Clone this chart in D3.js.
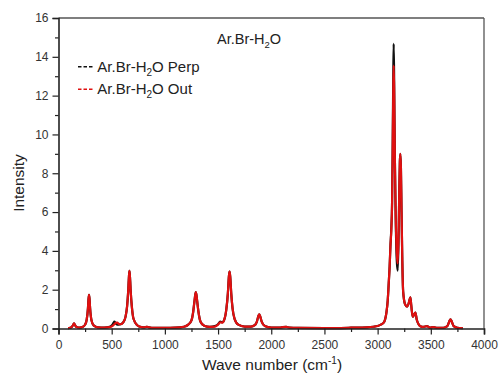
<!DOCTYPE html>
<html>
<head>
<meta charset="utf-8">
<script src="https://cdn.jsdelivr.net/npm/d3@7"></script>
<style>
  html, body { margin: 0; padding: 0; background: #fff; }
  svg { display: block; font-family: "Liberation Sans", Arial, sans-serif; }
</style>
</head>
<body>
<svg id="chart" width="499" height="383"></svg>
<script>
// ---- data ----
const waveNumber = [90,110,125,136,146,156,170,200,230,250,265,277,282,287,292,297,310,330,370,430,480,505,518,525,535,545,553,565,585,610,630,645,655,662,667,672,679,689,705,740,780,810,830,850,900,1000,1100,1180,1220,1250,1266,1278,1286,1291,1296,1304,1316,1335,1370,1420,1470,1500,1520,1540,1560,1578,1592,1602,1608,1614,1624,1636,1655,1690,1750,1810,1845,1865,1880,1887,1894,1910,1940,2000,2080,2110,2141,2170,2250,2500,2750,2900,2960,3000,3030,3057,3082,3095,3104,3113,3120,3129,3136,3142,3147,3151,3156,3162,3170,3180,3189,3197,3204,3209,3214,3219,3225,3232,3240,3258,3277,3292,3300,3308,3316,3330,3343,3355,3368,3385,3402,3430,3465,3490,3525,3560,3620,3655,3675,3685,3695,3715,3750,3800];
const perpIntensity = [0.02,0.04,0.08,0.17,0.27,0.17,0.08,0.05,0.09,0.2,0.45,1.05,1.5,1.73,1.5,1.05,0.42,0.16,0.06,0.05,0.08,0.18,0.3,0.35,0.3,0.22,0.2,0.2,0.22,0.33,0.6,1.15,1.9,2.65,2.97,2.65,1.9,1.15,0.5,0.17,0.07,0.06,0.09,0.06,0.03,0.03,0.04,0.09,0.2,0.42,0.85,1.4,1.75,1.87,1.75,1.4,0.85,0.35,0.14,0.08,0.12,0.22,0.35,0.32,0.48,1.0,1.8,2.7,2.93,2.7,1.8,1.05,0.5,0.2,0.1,0.1,0.17,0.36,0.66,0.73,0.66,0.36,0.13,0.05,0.04,0.07,0.08,0.05,0.03,0.02,0.04,0.06,0.09,0.13,0.2,0.3,0.8,1.45,2.3,3.2,4.2,5.2,6.5,9.8,13.0,14.67,12.5,8.8,5.6,3.5,2.98,4.6,7.2,8.6,9.0,8.3,6.0,3.5,1.9,1.25,1.13,1.3,1.48,1.61,1.2,0.61,0.72,0.82,0.45,0.22,0.12,0.08,0.12,0.05,0.07,0.03,0.04,0.12,0.38,0.47,0.38,0.12,0.04,0.02];
const outIntensity = [0.02,0.04,0.08,0.17,0.27,0.17,0.08,0.05,0.09,0.2,0.45,1.05,1.5,1.73,1.5,1.05,0.42,0.16,0.06,0.05,0.07,0.12,0.18,0.22,0.27,0.3,0.3,0.24,0.22,0.33,0.6,1.15,1.9,2.65,2.97,2.65,1.9,1.15,0.5,0.17,0.07,0.06,0.09,0.06,0.03,0.03,0.04,0.09,0.2,0.42,0.85,1.4,1.75,1.87,1.75,1.4,0.85,0.35,0.14,0.08,0.1,0.2,0.32,0.3,0.48,1.0,1.8,2.7,2.93,2.7,1.8,1.05,0.5,0.2,0.1,0.1,0.17,0.36,0.66,0.73,0.66,0.36,0.13,0.05,0.04,0.07,0.08,0.05,0.03,0.02,0.04,0.06,0.09,0.13,0.2,0.3,0.8,1.45,2.3,3.2,4.2,5.1,6.5,9.5,12.2,13.55,12.0,8.8,5.8,3.9,3.35,4.8,7.3,8.6,9.0,8.3,6.0,3.5,1.9,1.25,1.13,1.3,1.48,1.61,1.2,0.61,0.72,0.82,0.45,0.22,0.12,0.08,0.12,0.05,0.07,0.03,0.04,0.12,0.38,0.47,0.38,0.12,0.04,0.02];
const xTicks = [0,500,1000,1500,2000,2500,3000,3500,4000];
const xMinorTicks = [250,750,1250,1750,2250,2750,3250,3750];
const yTicks = [0,2,4,6,8,10,12,14,16];
const yMinorTicks = [1,3,5,7,9,11,13,15];
const seriesNames = ["Ar.Br-H", "O Perp", "O Out"];

// ---- layout ----
const svg = d3.select("#chart");
const L = 58.5, R = 484, T = 18, B = 328.5;
const x = d3.scaleLinear().domain([0, 4000]).range([L, R]);
const y = d3.scaleLinear().domain([0, 16]).range([B, T]);

svg.append("rect").attr("width", 499).attr("height", 383).attr("fill", "#fff");

// frame top/right
svg.append("line").attr("x1", L).attr("x2", R).attr("y1", T).attr("y2", T)
  .attr("stroke", "#555").attr("stroke-width", 1.3);
svg.append("line").attr("x1", R).attr("x2", R).attr("y1", T).attr("y2", B)
  .attr("stroke", "#555").attr("stroke-width", 1.3);

// series
const line = d3.line().curve(d3.curveMonotoneX);
const perpPts = waveNumber.map((w, i) => [x(w), y(perpIntensity[i])]);
const outPts = waveNumber.map((w, i) => [x(w), y(outIntensity[i])]);
svg.append("path").attr("d", line(perpPts)).attr("fill", "none")
  .attr("stroke", "#111").attr("stroke-width", 2.2).attr("stroke-linejoin", "round");
svg.append("path").attr("d", line(outPts)).attr("fill", "none")
  .attr("stroke", "#e01010").attr("stroke-width", 2.2).attr("stroke-linejoin", "round");

// axes
const xAxis = d3.axisBottom(x).tickValues(xTicks).tickSize(6).tickPadding(6).tickFormat(d3.format("d"));
const gx = svg.append("g").attr("transform", `translate(0,${B})`).call(xAxis);
const xMinor = d3.axisBottom(x).tickValues(xMinorTicks).tickSize(3.5).tickFormat("");
const gxm = svg.append("g").attr("transform", `translate(0,${B})`).call(xMinor);
gxm.select(".domain").remove();

const yAxis = d3.axisLeft(y).tickValues(yTicks).tickSize(6).tickPadding(4);
const gy = svg.append("g").attr("transform", `translate(${L},0)`).call(yAxis);
const yMinor = d3.axisLeft(y).tickValues(yMinorTicks).tickSize(3.5).tickFormat("");
const gym = svg.append("g").attr("transform", `translate(${L},0)`).call(yMinor);
gym.select(".domain").remove();

[gx, gy, gxm, gym].forEach(g => {
  g.selectAll(".domain").attr("stroke", "#222").attr("stroke-width", 1.6);
  g.selectAll(".tick line").attr("stroke", "#222").attr("stroke-width", 1.2);
  g.selectAll(".tick text").attr("fill", "#333").attr("font-size", 12)
    .attr("font-family", "Liberation Sans, Arial, sans-serif");
});

// axis titles
svg.append("text").attr("x", 272).attr("y", 369.5).attr("text-anchor", "middle")
  .attr("font-size", 15.5).attr("fill", "#222")
  .text("Wave number (cm")
  .append("tspan").attr("dy", -6).attr("font-size", 10).text("-1")
  .select(function() { return this.parentNode; })
  .append("tspan").attr("dy", 6).text(")");

svg.append("text").attr("transform", "translate(24,183) rotate(-90)")
  .attr("text-anchor", "middle").attr("font-size", 15.5).attr("fill", "#222")
  .text("Intensity");

// title
const title = svg.append("text").attr("x", 217).attr("y", 43.5)
  .attr("font-size", 14.5).attr("fill", "#222");
title.append("tspan").text(seriesNames[0]);
title.append("tspan").attr("dy", 4).attr("font-size", 9.5).text("2");
title.append("tspan").attr("dy", -4).text("O");

// legend
const legend = [
  { color: "#111", label: seriesNames[1], y: 66.7 },
  { color: "#e01010", label: seriesNames[2], y: 89.3 }
];
legend.forEach(d => {
  svg.append("line").attr("x1", 78).attr("x2", 93).attr("y1", d.y).attr("y2", d.y)
    .attr("stroke", d.color).attr("stroke-width", 1.6).attr("stroke-dasharray", "3.5,2");
  const t = svg.append("text").attr("x", 97.3).attr("y", d.y + 5)
    .attr("font-size", 15).attr("fill", "#222");
  t.append("tspan").text(seriesNames[0]);
  t.append("tspan").attr("dy", 4).attr("font-size", 10).text("2");
  t.append("tspan").attr("dy", -4).text(d.label);
});
</script>
</body>
</html>
